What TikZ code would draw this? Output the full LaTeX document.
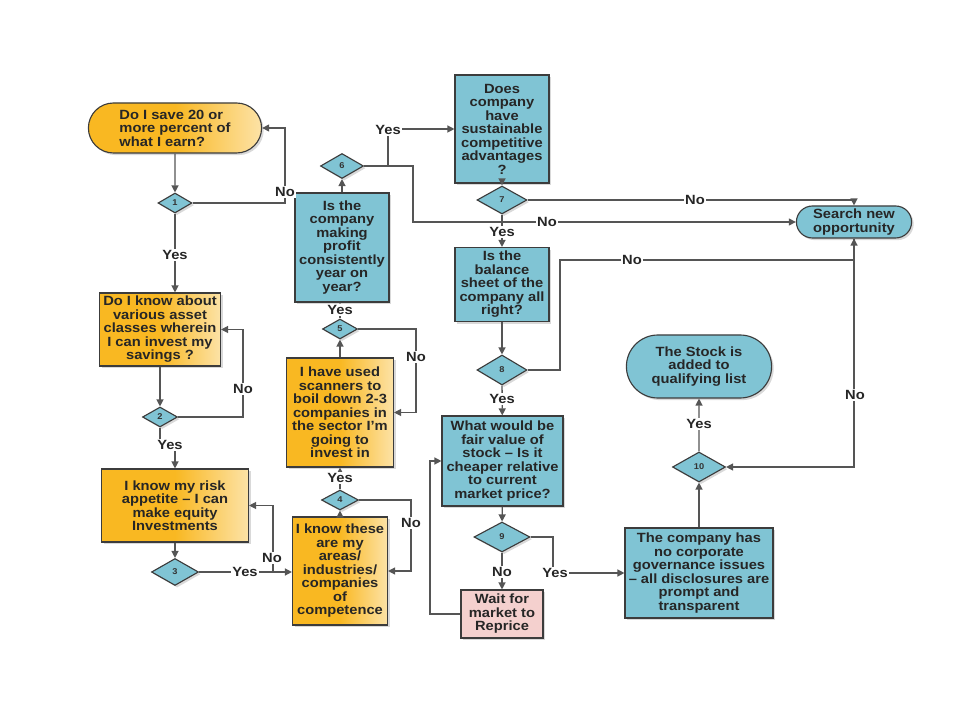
\documentclass[tikz,border=0pt]{standalone}
\usepackage{fontspec}
\setmainfont{Liberation Sans}[FakeStretch=1.1]
\usetikzlibrary{shapes.geometric,shapes.misc,arrows.meta,shadows}
\definecolor{og}{RGB}{249,184,34}
\definecolor{bl}{RGB}{128,196,212}
\definecolor{pk}{RGB}{244,208,206}
\definecolor{edge}{RGB}{60,60,60}
\definecolor{ln}{RGB}{85,85,85}
\begin{document}
\begin{tikzpicture}[x=0.025cm,y=-0.025cm,
  font=\fontsize{9.5}{9.6}\selectfont\bfseries,
  wh/.style 2 args={minimum width=#1*0.025cm,minimum height=#2*0.025cm},
  shd/.style={drop shadow={shadow xshift=1.5pt,shadow yshift=-1.5pt,opacity=0.3}},
  box/.style={shd, draw=edge, line width=0.8pt, align=center, inner sep=1pt, text=black!85},
  obox/.style={box, left color=og, right color=og!40!white, middle color=og},
  bbox/.style={box, fill=bl},
  pbox/.style={box, fill=pk},
  dia/.style={shd, diamond, draw=edge, fill=bl, line width=0.8pt, inner sep=0pt, text=black!80,
    font=\fontsize{6}{6}\selectfont\bfseries},
  arr/.style={draw=ln, line width=0.9pt, -{Triangle[length=5pt,width=5pt]}},
  lbl/.style={fill=white, inner sep=1pt, text=black!85}]
  \useasboundingbox (0,0) rectangle (960,720);

  \node[obox, rounded rectangle, align=left, wh={176}{50}] (start) at (175,128)
    {Do I save 20 or\\more percent of\\what I earn?};
  \node[dia, wh={34}{20}] (d1) at (175,203) {1};
  \node[obox, wh={121}{73}] (A) at (160,329.5)
    {Do I know about\\various asset\\classes wherein\\I can invest my\\savings ?};
  \node[dia, wh={35}{20}] (d2) at (160,417) {2};
  \node[obox, wh={147}{73}] (B) at (175,505.5)
    {I know my risk\\appetite – I can\\make equity\\Investments};
  \node[dia, wh={47}{27}] (d3) at (175,572) {3};
  \node[obox, wh={95}{108}] (C) at (340,571)
    {I know these\\are my\\areas/\\industries/\\companies\\of\\competence};
  \node[dia, wh={37}{20}] (d4) at (340,500) {4};
  \node[obox, wh={107}{109}] (D) at (340,412.5)
    {I have used\\scanners to\\boil down 2-3\\companies in\\the sector I’m\\going to\\invest in};
  \node[dia, wh={35}{20}] (d5) at (340,329) {5};
  \node[bbox, wh={94}{109}] (E) at (342,247.5)
    {Is the\\company\\making\\profit\\consistently\\year on\\year?};
  \node[dia, wh={43}{25}] (d6) at (342,166) {6};
  \node[bbox, wh={94}{108}] (F) at (502,129)
    {Does\\company\\have\\sustainable\\competitive\\advantages\\?};
  \node[dia, wh={50}{28}] (d7) at (502,200) {7};
  \node[bbox, wh={94}{74}] (G) at (502,284.5)
    {Is the\\balance\\sheet of the\\company all\\right?};
  \node[dia, wh={50}{30}] (d8) at (502,370) {8};
  \node[bbox, wh={121}{90}] (H) at (502.5,461)
    {What would be\\fair value of\\stock – Is it\\cheaper relative\\to current\\market price?};
  \node[dia, wh={56}{30}] (d9) at (502,537) {9};
  \node[pbox, wh={82}{48}] (I) at (502,614)
    {Wait for\\market to\\Reprice};
  \node[bbox, wh={148}{90}] (J) at (699,573)
    {The company has\\no corporate\\governance issues\\– all disclosures are\\prompt and\\transparent};
  \node[dia, wh={53}{30}] (d10) at (699,467) {10};
  \node[bbox, rounded rectangle, wh={148}{63}] (T) at (699,366.5)
    {The Stock is\\added to\\qualifying list};
  \node[bbox, rounded rectangle, wh={118}{32}] (S) at (854,222)
    {Search new\\opportunity};
  \coordinate (j3) at (273,572);

  \draw[arr] (start) -- (d1);
  \draw[arr] (d1) -- (285,203) |- (start);
  \draw[arr] (d1) -- (d1 |- A.north);
  \draw[arr] (A) -- (d2);
  \draw[arr] (d2) -- (243,417) |- (A);
  \draw[arr] (d2) |- (175,445) -- (B);
  \draw[arr] (B) -- (d3);
  \draw[arr] (d3) -- (d3 -| C.west);
  \draw[arr] (j3) |- (B);
  \draw[arr] (C) -- (d4);
  \draw[arr] (d4) -- (411,500) |- (C);
  \draw[arr] (d4) -- (D);
  \draw[arr] (D) -- (d5);
  \draw[arr] (d5) -- (416,329) |- (D);
  \draw[arr] (d5) -- (d5 |- E.south);
  \draw[arr] (E) -- (d6);
  \draw[arr] (d6) -- (388,166) |- (F);
  \draw[arr] (d6) -- (413,166) |- (S);
  \draw[arr] (F) -- (d7);
  \draw[arr] (d7) -| (S);
  \draw[arr] (d7) -- (G);
  \draw[arr] (G) -- (d8);
  \draw[arr] (d8) -| (560,260) -| (S);
  \draw[arr] (S) |- (d10);
  \draw[arr] (d8) -- (H);
  \draw[arr] (H) -- (d9);
  \draw[arr] (d9) -- (I);
  \draw[arr] (d9) -- (553,537) |- (J);
  \draw[arr] (I) -| (430,461) -- (H);
  \draw[arr] (J) -- (d10);
  \draw[arr] (d10) -- (T);

  \node[lbl] (n1) at (285,192) {No};
  \node[lbl] (y1) at (175,255) {Yes};
  \node[lbl] (n2) at (243,389) {No};
  \node[lbl] (y2) at (170,445) {Yes};
  \node[lbl] (y3) at (245,572) {Yes};
  \node[lbl] (n3) at (272,558) {No};
  \node[lbl] (n4) at (411,523) {No};
  \node[lbl] (y4) at (340,478) {Yes};
  \node[lbl] (n5) at (416,357) {No};
  \node[lbl] (y5) at (340,310) {Yes};
  \node[lbl] (y6) at (388,130) {Yes};
  \node[lbl] (n6) at (547,222) {No};
  \node[lbl] (n7) at (695,200) {No};
  \node[lbl] (y7) at (502,232) {Yes};
  \node[lbl] (n8) at (632,260) {No};
  \node[lbl] (y8) at (502,399) {Yes};
  \node[lbl] (n9) at (502,572) {No};
  \node[lbl] (y9) at (555,573) {Yes};
  \node[lbl] (n10) at (855,395) {No};
  \node[lbl] (y10) at (699,424) {Yes};
\end{tikzpicture}
\end{document}
